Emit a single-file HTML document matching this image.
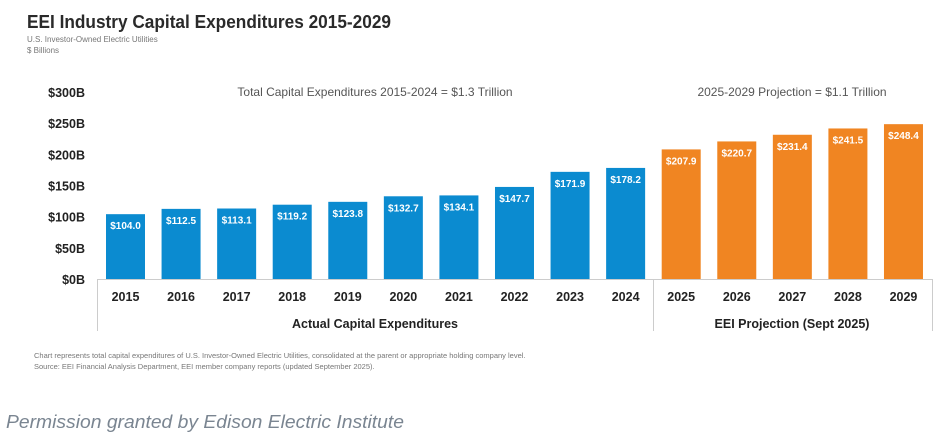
<!DOCTYPE html>
<html><head><meta charset="utf-8"><style>
body{margin:0;background:#fff;width:940px;height:434px;overflow:hidden;font-family:"Liberation Sans",sans-serif}
</style></head><body>
<svg id="c" width="940" height="434" font-family="Liberation Sans, sans-serif">
<text x="27" y="28" font-size="18" font-weight="bold" fill="#2a2a2a" textLength="364" lengthAdjust="spacingAndGlyphs">EEI Industry Capital Expenditures 2015-2029</text>
<text x="27" y="42" font-size="8" fill="#777">U.S. Investor-Owned Electric Utilities</text>
<text x="27" y="53" font-size="8" fill="#777">$ Billions</text>
<text x="375" y="96" font-size="12" fill="#555" text-anchor="middle">Total Capital Expenditures 2015-2024 = $1.3 Trillion</text>
<text x="792" y="96" font-size="12" fill="#555" text-anchor="middle">2025-2029 Projection = $1.1 Trillion</text>
<g id="bars"></g>
<line x1="97" y1="279.5" x2="932" y2="279.5" stroke="#ccc"/>
<line x1="97.5" y1="279" x2="97.5" y2="331" stroke="#ccc"/>
<line x1="653.5" y1="279" x2="653.5" y2="331" stroke="#ccc"/>
<line x1="932.5" y1="279" x2="932.5" y2="331" stroke="#ccc"/>
<text x="375" y="328" font-size="12.5" font-weight="bold" fill="#222" text-anchor="middle">Actual Capital Expenditures</text>
<text x="792" y="328" font-size="12.5" font-weight="bold" fill="#222" text-anchor="middle">EEI Projection (Sept 2025)</text>
<text x="34" y="358" font-size="7.5" fill="#777">Chart represents total capital expenditures of U.S. Investor-Owned Electric Utilities, consolidated at the parent or appropriate holding company level.</text>
<text x="34" y="369" font-size="7.5" fill="#777">Source: EEI Financial Analysis Department, EEI member company reports (updated September 2025).</text>
<text x="6" y="428" font-size="18" font-style="italic" fill="#7a8591" textLength="398" lengthAdjust="spacingAndGlyphs">Permission granted by Edison Electric Institute</text>
</svg>
<script>
const years=["2015","2016","2017","2018","2019","2020","2021","2022","2023","2024","2025","2026","2027","2028","2029"];
const values=[104.0,112.5,113.1,119.2,123.8,132.7,134.1,147.7,171.9,178.2,207.9,220.7,231.4,241.5,248.4];
const projected=[false,false,false,false,false,false,false,false,false,false,true,true,true,true,true];
const yTicks=[0,50,100,150,200,250,300];
const yTickLabels=["$0B","$50B","$100B","$150B","$200B","$250B","$300B"];
const NS="http://www.w3.org/2000/svg";
const g=document.getElementById('bars');
function y(v){return 279-v*(187/300);}
function x(i){return 106+i*55.57;}
const bw=39;
yTicks.forEach((t,i)=>{
 const tx=document.createElementNS(NS,'text');
 tx.setAttribute('x',85);tx.setAttribute('y',y(t)+5);tx.setAttribute('text-anchor','end');
 tx.setAttribute('font-size','12.5');tx.setAttribute('font-weight','bold');tx.setAttribute('fill','#222');
 tx.textContent=yTickLabels[i];
 
 
 g.appendChild(tx);
});
values.forEach((v,i)=>{
 const r=document.createElementNS(NS,'rect');
 r.setAttribute('x',x(i));r.setAttribute('y',y(v));r.setAttribute('width',bw);r.setAttribute('height',279-y(v));
 r.setAttribute('fill',projected[i]?'#f08522':'#0b8bd0');
 
 
 g.appendChild(r);
 const l=document.createElementNS(NS,'text');
 l.setAttribute('x',x(i)+bw/2);l.setAttribute('y',y(v)+15);l.setAttribute('text-anchor','middle');
 l.setAttribute('font-size','10');l.setAttribute('font-weight','bold');l.setAttribute('fill','#fff');
 l.textContent='$'+v.toFixed(1);
 
 
 g.appendChild(l);
 const yl=document.createElementNS(NS,'text');
 yl.setAttribute('x',x(i)+bw/2);yl.setAttribute('y',301);yl.setAttribute('text-anchor','middle');
 yl.setAttribute('font-size','12.5');yl.setAttribute('font-weight','bold');yl.setAttribute('fill','#222');
 yl.textContent=years[i];
 
 
 g.appendChild(yl);
});
</script>
</body></html>
